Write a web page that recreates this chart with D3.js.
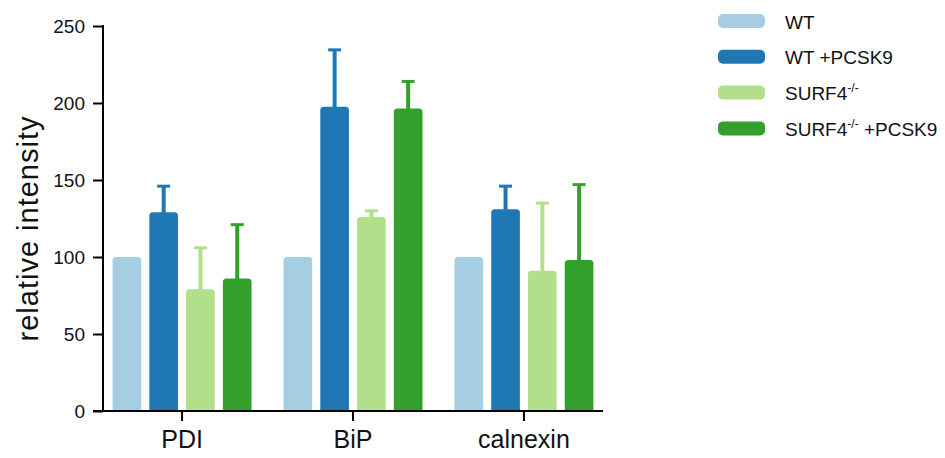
<!DOCTYPE html>
<html>
<head>
<meta charset="utf-8">
<script src="https://cdn.jsdelivr.net/npm/d3@7"></script>
<style>
  body { margin: 0; background: #fff; }
  svg { display: block; font-family: "Liberation Sans", Arial, sans-serif; }
</style>
</head>
<body>
<div id="chart"></div>
<script>
// data
const categories = ['PDI', 'BiP', 'calnexin'];
const groups = ['WT', 'WT +PCSK9', 'SURF4 ko', 'SURF4 ko +PCSK9'];
const colors = ['#a6cee3', '#1f78b4', '#b2df8a', '#33a02c'];
const means = [
  [100, 129, 79, 86],
  [100, 197.5, 126, 196.5],
  [100, 131, 91, 98]
];
const errors = [
  [0, 17, 27, 35],
  [0, 37, 4, 17.5],
  [0, 15, 44, 49]
];
const yTicks = [0, 50, 100, 150, 200, 250];

const width = 945, height = 458;
const svg = d3.select('#chart').append('svg')
  .attr('width', width)
  .attr('height', height);

// scales
const x0 = d3.scaleBand()
  .domain(categories)
  .range([103, 603])
  .paddingInner(0.187)
  .paddingOuter(0.056);

const x1 = d3.scaleBand()
  .domain(d3.range(groups.length))
  .range([0, x0.bandwidth()])
  .paddingInner(0.22)
  .paddingOuter(0);

const y = d3.scaleLinear().domain([0, 250]).range([411, 26]);

// rounded-top bar path
function barPath(x, yTop, w, yBase, r) {
  r = Math.min(r, (yBase - yTop) / 2);
  return `M${x},${yBase}V${yTop + r}Q${x},${yTop} ${x + r},${yTop}` +
    `H${x + w - r}Q${x + w},${yTop} ${x + w},${yTop + r}V${yBase}Z`;
}

// bars + error bars
const rows = categories.map((c, i) => groups.map((g, j) => ({
  cat: c, j: j, mean: means[i][j], err: errors[i][j]
})));

const catG = svg.selectAll('g.cat')
  .data(rows)
  .join('g')
  .attr('class', 'cat')
  .attr('transform', (d, i) => `translate(${x0(categories[i])},0)`);

catG.selectAll('path.err')
  .data(d => d.filter(v => v.err > 0))
  .join('path')
  .attr('class', 'err')
  .attr('fill', 'none')
  .attr('stroke', d => colors[d.j])
  .attr('stroke-width', 4)
  .attr('d', d => {
    const cx = x1(d.j) + x1.bandwidth() / 2;
    return `M${cx},${y(d.mean) + 2}V${y(d.mean + d.err)}`;
  });

catG.selectAll('rect.cap')
  .data(d => d.filter(v => v.err > 0))
  .join('rect')
  .attr('class', 'cap')
  .attr('fill', d => colors[d.j])
  .attr('x', d => x1(d.j) + x1.bandwidth() / 2 - 6.5)
  .attr('y', d => y(d.mean + d.err) - 1.5)
  .attr('width', 13)
  .attr('height', 3);

catG.selectAll('path.bar')
  .data(d => d)
  .join('path')
  .attr('class', 'bar')
  .attr('fill', d => colors[d.j])
  .attr('d', d => barPath(x1(d.j), y(d.mean), x1.bandwidth(), y(0), 3.5));

// y axis
const yAxis = svg.append('g')
  .attr('transform', 'translate(103,0)')
  .call(d3.axisLeft(y).tickValues(yTicks).tickSize(10).tickPadding(8));
yAxis.select('.domain').attr('d', `M0,${y(250) - 1}V${y(0)}`);
yAxis.selectAll('line, .domain').attr('stroke', '#000').attr('stroke-width', 2);
yAxis.selectAll('text')
  .attr('fill', '#111')
  .style('font-size', '19px')
  .style('font-family', '"Liberation Sans", Arial, sans-serif');

// x axis
const xAxis = svg.append('g')
  .attr('transform', `translate(0,${y(0)})`)
  .call(d3.axisBottom(x0).tickSize(10).tickPadding(9));
xAxis.select('.domain').attr('d', 'M93,0H603');
xAxis.selectAll('line, .domain').attr('stroke', '#000').attr('stroke-width', 2);
xAxis.selectAll('text')
  .attr('fill', '#111')
  .style('font-size', '25px')
  .style('font-family', '"Liberation Sans", Arial, sans-serif');

// y label
svg.append('text')
  .attr('transform', `translate(38,${(y(0) + y(250)) / 2 + 10}) rotate(-90)`)
  .attr('text-anchor', 'middle')
  .attr('fill', '#111')
  .style('font-size', '29px')
  .style('letter-spacing', '1px')
  .text('relative intensity');

// legend
const legend = svg.append('g').attr('transform', 'translate(718,21)');
const item = legend.selectAll('g')
  .data(groups)
  .join('g')
  .attr('transform', (d, i) => `translate(0,${i * 35.8})`);

item.append('rect')
  .attr('x', 0)
  .attr('y', -7)
  .attr('width', 47)
  .attr('height', 14)
  .attr('rx', 5)
  .attr('fill', (d, i) => colors[i]);

const lt = item.append('text')
  .attr('x', 67)
  .attr('y', 7.5)
  .attr('fill', '#111')
  .style('font-size', '19px');

lt.each(function(d) {
  const t = d3.select(this);
  if (d.startsWith('SURF4')) {
    t.append('tspan').text('SURF4');
    t.append('tspan').attr('dy', -8).style('font-size', '12px').text('-/-');
    if (d.endsWith('PCSK9')) {
      t.append('tspan').attr('dy', 8).text(' +PCSK9');
    }
  } else {
    t.text(d);
  }
});
</script>
</body>
</html>
